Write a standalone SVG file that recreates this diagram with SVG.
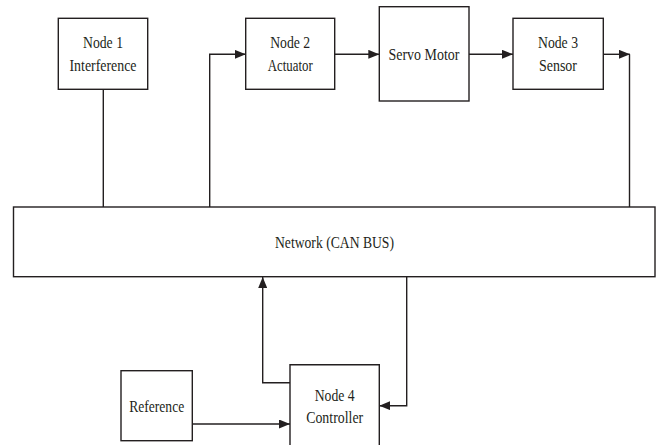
<svg xmlns="http://www.w3.org/2000/svg" width="657" height="445" viewBox="0 0 657 445">
<style>
.box{fill:#fff;stroke:#231f20;stroke-width:1.4}
.ln{fill:none;stroke:#231f20;stroke-width:1.4}
text{font-family:"Liberation Serif","Times New Roman",serif;font-size:17px;fill:#231f20;text-anchor:middle}
</style>
<defs>
<marker id="ah" markerWidth="11" markerHeight="9" refX="11" refY="4.5" orient="auto" markerUnits="userSpaceOnUse">
<path d="M0,0 L11,4.5 L0,9 Z" fill="#231f20"/>
</marker>
</defs>
<rect width="657" height="445" fill="#fff"/>
<g id="connectors">
<path class="ln" d="M103.3,89.3 V207"/>
<path class="ln" d="M209.7,207 V54.3 H245.7" marker-end="url(#ah)"/>
<path class="ln" d="M334.7,54.3 H379.3" marker-end="url(#ah)"/>
<path class="ln" d="M469,54.3 H513" marker-end="url(#ah)"/>
<path class="ln" d="M603.3,54.3 H630" marker-end="url(#ah)"/>
<path class="ln" d="M629.5,54.3 V207"/>
<path class="ln" d="M290,382.7 H262.7 V277" marker-end="url(#ah)"/>
<path class="ln" d="M406.7,277 V405.7 H379.3" marker-end="url(#ah)"/>
<path class="ln" d="M192.3,424 H290" marker-end="url(#ah)"/>
</g>
<g id="node1">
<rect class="box" x="58.3" y="18.3" width="89.4" height="71"/>
<text x="103" y="48.3" textLength="40" lengthAdjust="spacingAndGlyphs">Node 1</text>
<text x="103" y="70.7" textLength="67" lengthAdjust="spacingAndGlyphs">Interference</text>
</g>
<g id="node2">
<rect class="box" x="245.7" y="18.3" width="89" height="71"/>
<text x="290.2" y="48.3" textLength="40" lengthAdjust="spacingAndGlyphs">Node 2</text>
<text x="290.2" y="70.7" textLength="45" lengthAdjust="spacingAndGlyphs">Actuator</text>
</g>
<g id="servo">
<rect class="box" x="379.3" y="6.7" width="89.7" height="94.3"/>
<text x="424" y="60" textLength="71" lengthAdjust="spacingAndGlyphs">Servo Motor</text>
</g>
<g id="node3">
<rect class="box" x="513" y="18.3" width="90.3" height="71"/>
<text x="558" y="48.3" textLength="40" lengthAdjust="spacingAndGlyphs">Node 3</text>
<text x="558" y="70.7" textLength="38" lengthAdjust="spacingAndGlyphs">Sensor</text>
</g>
<g id="network">
<rect class="box" x="13.5" y="207" width="641.5" height="69.7"/>
<text x="334.5" y="248" textLength="119" lengthAdjust="spacingAndGlyphs">Network (CAN BUS)</text>
</g>
<g id="reference">
<rect class="box" x="121" y="370.7" width="71.3" height="70"/>
<text x="156.7" y="411.7" textLength="55" lengthAdjust="spacingAndGlyphs">Reference</text>
</g>
<g id="node4">
<path class="box" d="M290,446 V364.7 H379.3 V446"/>
<text x="334.7" y="401" textLength="40" lengthAdjust="spacingAndGlyphs">Node 4</text>
<text x="334.7" y="422.7" textLength="57" lengthAdjust="spacingAndGlyphs">Controller</text>
</g>
</svg>
